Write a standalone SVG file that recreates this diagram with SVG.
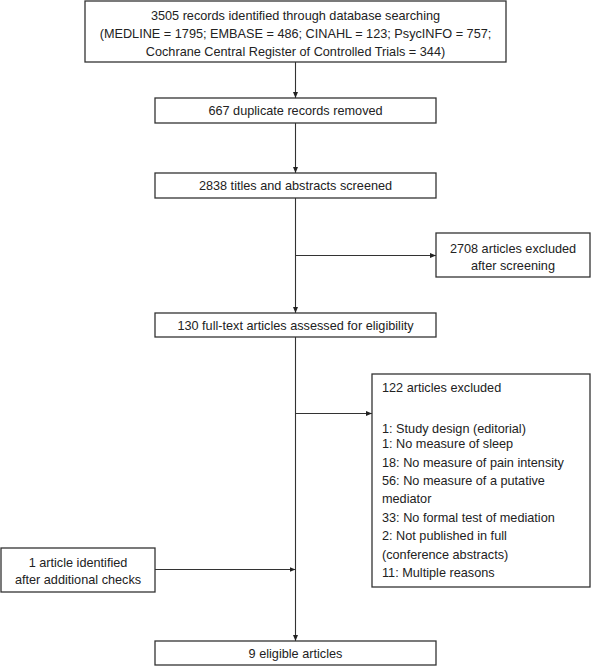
<svg xmlns="http://www.w3.org/2000/svg" width="591" height="666" viewBox="0 0 591 666">
<style>
rect.box{fill:#fff;stroke:#333;stroke-width:1.3}
text{font-family:"Liberation Sans",Arial,sans-serif;font-size:12.7px;fill:#222}
.c{text-anchor:middle}
.conn line{stroke:#333;stroke-width:1.1}
</style>
<defs>
<marker id="ah" viewBox="0 0 6 6" refX="6" refY="3" markerWidth="6" markerHeight="6" markerUnits="userSpaceOnUse" orient="auto">
<path d="M0,0.5 L6,3 L0,5.5 z" fill="#222"/>
</marker>
</defs>
<g id="connectors" class="conn">
<line x1="295.5" y1="62" x2="295.5" y2="98" marker-end="url(#ah)"/>
<line x1="295.5" y1="123" x2="295.5" y2="173" marker-end="url(#ah)"/>
<line x1="295.5" y1="198" x2="295.5" y2="313" marker-end="url(#ah)"/>
<line x1="295.5" y1="255.5" x2="436" y2="255.5" marker-end="url(#ah)"/>
<line x1="295.5" y1="337" x2="295.5" y2="641" marker-end="url(#ah)"/>
<line x1="295.5" y1="413.5" x2="372" y2="413.5" marker-end="url(#ah)"/>
<line x1="155" y1="569.5" x2="295.5" y2="569.5" marker-end="url(#ah)"/>
</g>
<g id="n1">
<rect class="box" x="85" y="1" width="421" height="61"/>
<text class="c" x="295.5" y="19.5">3505 records identified through database searching</text>
<text class="c" x="295.5" y="37.5">(MEDLINE = 1795; EMBASE = 486; CINAHL = 123; PsycINFO = 757;</text>
<text class="c" x="295.5" y="56">Cochrane Central Register of Controlled Trials = 344)</text>
</g>
<g id="n2">
<rect class="box" x="155" y="98" width="281" height="25"/>
<text class="c" x="295.5" y="115">667 duplicate records removed</text>
</g>
<g id="n3">
<rect class="box" x="155" y="173" width="281" height="25"/>
<text class="c" x="295.5" y="190">2838 titles and abstracts screened</text>
</g>
<g id="n4">
<rect class="box" x="436" y="233" width="154" height="44"/>
<text class="c" x="513" y="252.5">2708 articles excluded</text>
<text class="c" x="513" y="269.5">after screening</text>
</g>
<g id="n5">
<rect class="box" x="155" y="313" width="281" height="24"/>
<text class="c" x="295.5" y="329.5">130 full-text articles assessed for eligibility</text>
</g>
<g id="n6">
<rect class="box" x="372" y="374" width="218" height="213"/>
<text x="382" y="391.5">122 articles excluded</text>
<text x="382" y="432.5">1: Study design (editorial)</text>
<text x="382" y="447.5">1: No measure of sleep</text>
<text x="382" y="466.5">18: No measure of pain intensity</text>
<text x="382" y="484.5">56: No measure of a putative</text>
<text x="382" y="502.5">mediator</text>
<text x="382" y="521.5">33: No formal test of mediation</text>
<text x="382" y="539.5">2: Not published in full</text>
<text x="382" y="558.5">(conference abstracts)</text>
<text x="382" y="577">11: Multiple reasons</text>
</g>
<g id="n7">
<rect class="box" x="1" y="548" width="154" height="44"/>
<text class="c" x="78" y="566.5">1 article identified</text>
<text class="c" x="78" y="583.5">after additional checks</text>
</g>
<g id="n8">
<rect class="box" x="155" y="641" width="281" height="24"/>
<text class="c" x="295.5" y="657.5">9 eligible articles</text>
</g>
</svg>
